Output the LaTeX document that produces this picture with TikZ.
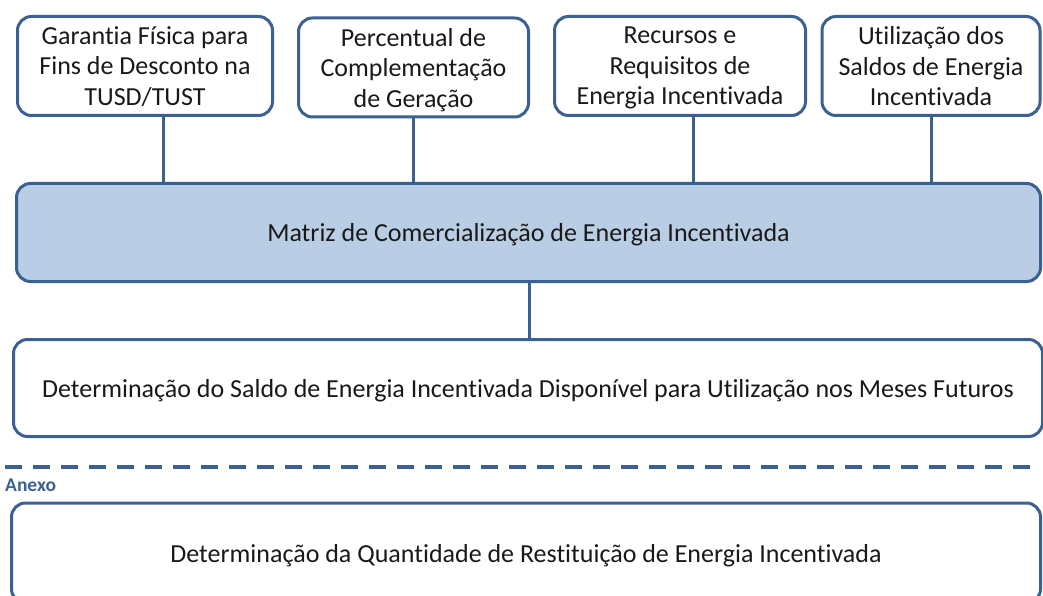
\documentclass[tikz,border=0pt]{standalone}
\usepackage{fontspec}
\setmainfont{Carlito}[Ligatures={NoCommon,NoContextual}]
\definecolor{bordc}{HTML}{3B6193}
\definecolor{fillc}{HTML}{B9CDE5}
\begin{document}
\begin{tikzpicture}[x=1pt,y=-1pt,
  box/.style={draw=bordc, line width=3pt, rounded corners=14pt, fill=white,
    align=center, inner sep=0pt, font=\fontsize{26}{30.5}\selectfont, text=black!90},
  link/.style={draw=bordc, line width=3pt}]
\useasboundingbox (0,0) rectangle (1043,596);
\clip (0,0) rectangle (1043,596);
\fill[white] (0,0) rectangle (1043,596);
% top boxes
\node[box, minimum width=255pt, minimum height=99pt, text depth=0pt] (b1) at (145,66) {Garantia Física para\\Fins de Desconto na\\TUSD/TUST};
\node[box, minimum width=230pt, minimum height=99pt, text depth=0pt] (b2) at (413.5,67.5) {Percentual de\\Complementação\\de Geração};
\node[box, minimum width=251pt, minimum height=99pt, text depth=0pt] (b3) at (680,66) {Recursos e\\Requisitos de\\Energia Incentivada};
\node[box, minimum width=218pt, minimum height=99pt, text depth=0pt] (b4) at (931,66) {Utilização dos\\Saldos de Energia\\Incentivada};
% main
\node[box, fill=fillc, minimum width=1024pt, minimum height=98pt, text depth=0pt] (main) at (528.5,232.5) {Matriz de Comercialização de Energia Incentivada};
% bottom
\node[box, minimum width=1029pt, minimum height=97pt, text depth=0pt] (det) at (528,388) {Determinação do Saldo de Energia Incentivada Disponível para Utilização nos Meses Futuros};
\node[box, minimum width=1029pt, minimum height=100pt, text depth=0pt] (rest) at (526,553) {Determinação da Quantidade de Restituição de Energia Incentivada};
% connectors
\draw[link] ([xshift=18pt]b1.south) -- ([xshift=18pt]b1.south |- main.north);
\draw[link] (b2.south) -- (b2.south |- main.north);
\draw[link] ([xshift=13pt]b3.south) -- ([xshift=13pt]b3.south |- main.north);
\draw[link] (b4.south) -- (b4.south |- main.north);
\draw[link] (main.south -| 529,0) -- (det.north -| 529,0);
% separator
\coordinate (sepL) at (5,467);
\coordinate (sepR) at (1036,467);
\draw[draw=bordc, line width=3.2pt, dash pattern=on 17pt off 11pt] (sepL) -- (sepR);
\node[anchor=west, inner sep=0pt, text=bordc, font=\fontsize{19.5}{22}\selectfont\bfseries] (anexo) at (5,485) {Anexo};
\end{tikzpicture}
\end{document}
